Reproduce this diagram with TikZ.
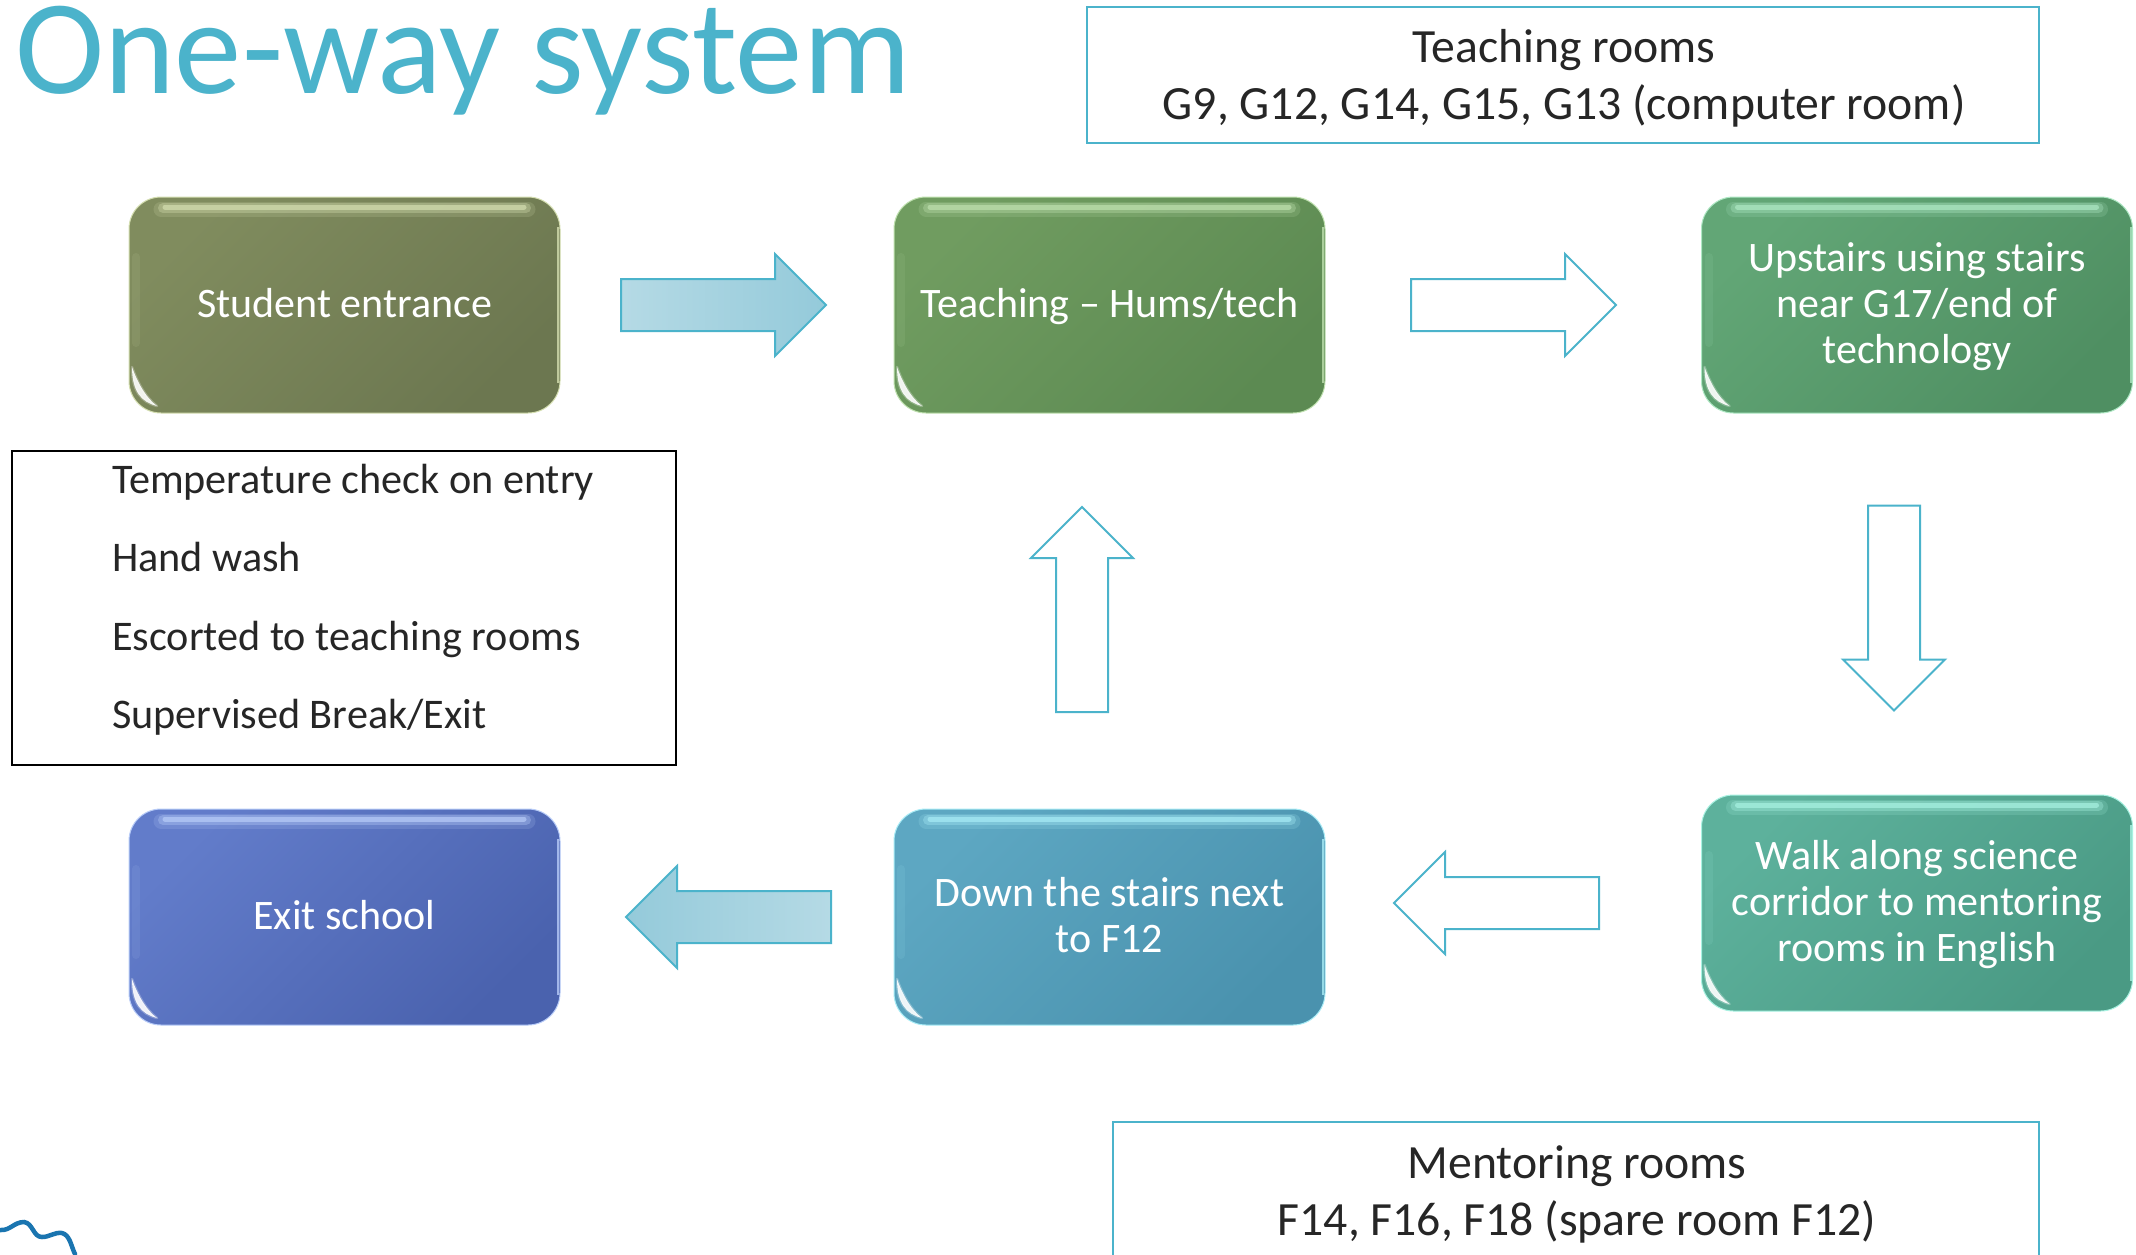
\documentclass[tikz,border=0pt]{standalone}
\usepackage{fontspec}
\setmainfont{Carlito}
\usetikzlibrary{shapes.arrows,calc}
\definecolor{teal1}{HTML}{4BB3CB}
\definecolor{ink}{HTML}{262626}
\definecolor{arrowlight}{HTML}{B5DAE5}
\definecolor{arrowdark}{HTML}{94CADA}
\definecolor{squiggle}{HTML}{1A75B0}
\definecolor{entA}{HTML}{808C5E}\definecolor{entB}{HTML}{6C7750}\definecolor{entC}{HTML}{D4DEB0}
\definecolor{teaA}{HTML}{709C60}\definecolor{teaB}{HTML}{5C8A52}\definecolor{teaC}{HTML}{BEE0AE}
\definecolor{upsA}{HTML}{62A676}\definecolor{upsB}{HTML}{4F8F62}\definecolor{upsC}{HTML}{AEE8C4}
\definecolor{walA}{HTML}{5DB19C}\definecolor{walB}{HTML}{4A9A84}\definecolor{walC}{HTML}{A8F2E2}
\definecolor{dowA}{HTML}{5DA7C2}\definecolor{dowB}{HTML}{4A92AE}\definecolor{dowC}{HTML}{A8ECF6}
\definecolor{exiA}{HTML}{627CCA}\definecolor{exiB}{HTML}{4A62AE}\definecolor{exiC}{HTML}{B8CCF8}
\newcommand{\bstrut}{\rule[-11pt]{0pt}{46pt}}
\tikzset{
  x=1pt,y=-1pt,
  glossbox/.style n args={3}{rectangle,rounded corners=32pt,minimum width=431pt,minimum height=216pt,
    inner sep=0pt,outer sep=0pt,align=center,text=white,draw=#3,line width=1pt,
    left color=#1,right color=#2,shading angle=45,
    font=\fontsize{42}{46}\selectfont},
  blockarrow/.style={single arrow,anchor=tail,minimum height=205pt,minimum width=100pt,single arrow head extend=25pt,
    single arrow head indent=0pt,inner xsep=0pt,inner ysep=25pt,outer sep=0pt,draw=teal1,line width=2pt,fill=white},
  vertical arrow/.style={blockarrow,inner xsep=25pt,inner ysep=0pt},
  labelbox/.style={rectangle,inner sep=0pt,outer sep=0pt,draw=teal1,line width=2pt,fill=white},
  roomtext/.style={text=ink,align=center,font=\fontsize{47.7}{57}\selectfont},
  listtext/.style={text=ink,anchor=base west,inner sep=0pt,font=\fontsize{42.2}{46}\selectfont},
}
\newcommand{\glossmark}[2]{%
  \draw[#2,line width=15pt,opacity=.18,line cap=round] ($(#1.north west)+(32,12)$) -- ($(#1.north east)+(-32,12)$);
  \draw[#2,line width=10pt,opacity=.35,line cap=round] ($(#1.north west)+(34,11)$) -- ($(#1.north east)+(-34,11)$);
  \draw[#2,line width=5pt,opacity=.7,line cap=round] ($(#1.north west)+(36,10)$) -- ($(#1.north east)+(-36,10)$);
  \draw[#2,line width=2pt,opacity=.8] ($(#1.north east)+(-2,30)$) -- ($(#1.south east)+(-2,-30)$);
  \draw[#2,line width=8pt,opacity=.1,line cap=round] ($(#1.north west)+(7,60)$) -- ($(#1.south west)+(7,-70)$);
  \path[fill=white,draw=white,line width=2.5pt,draw opacity=.25,fill opacity=.9,line join=round]
    ($(#1.south west)+(3,-46)$) .. controls ($(#1.south west)+(3,-22)$) and ($(#1.south west)+(12,-11)$) .. ($(#1.south west)+(28,-7)$)
    .. controls ($(#1.south west)+(16,-16)$) and ($(#1.south west)+(8,-32)$) .. cycle;
}
\begin{document}
\begin{tikzpicture}
\useasboundingbox (0,0) rectangle (2136,1254);
\fill[white] (0,0) rectangle (2136,1254);

\begin{scope}
\clip (0,0) rectangle (2136,1254);
\node[anchor=base west,inner sep=0pt,text=teal1,font=\fontsize{134.6}{134}\selectfont] (title) at (15,93) {One-way system};
\end{scope}

\node[labelbox,minimum width=952pt,minimum height=136pt] (troom) at (1563,75) {};
\node[roomtext] (troomtext) at (1564,78) {Teaching rooms\\G9, G12, G14, G15, G13 (computer room)};
\begin{scope}
\clip (0,0) rectangle (2136,1254);
\node[labelbox,minimum width=926pt,minimum height=160pt] (mroom) at (1576,1202) {};
\end{scope}
\node[roomtext] (mroomtext) at (1577,1194) {Mentoring rooms\\F14, F16, F18 (spare room F12)};

\node[rectangle,draw=black,line width=2pt,minimum width=664pt,minimum height=314pt,inner sep=0pt,outer sep=0pt] (checks) at (344,607.5) {};
\node[listtext] (c1) at (112,493) {Temperature check on entry};
\node[listtext] (c2) at (112,571) {Hand wash};
\node[listtext] (c3) at (112,650) {Escorted to teaching rooms};
\node[listtext] (c4) at (112,728) {Supervised Break/Exit};

\node[glossbox={entA}{entB}{entC}] (entrance) at (344.5,305) {\bstrut Student entrance};
\node[glossbox={teaA}{teaB}{teaC}] (teach) at (1109.5,305) {\bstrut Teaching -- Hums/tech};
\node[glossbox={upsA}{upsB}{upsC}] (up) at (1917,305) {\bstrut Upstairs using stairs\\\bstrut near G17/end of\\\bstrut technology};
\node[glossbox={walA}{walB}{walC}] (walk) at (1917,903) {\bstrut Walk along science\\\bstrut corridor to mentoring\\\bstrut rooms in English};
\node[glossbox={dowA}{dowB}{dowC}] (down) at (1109.5,917) {\bstrut Down the stairs next\\\bstrut to F12};
\node[glossbox={exiA}{exiB}{exiC}] (exit) at (344.5,917) {\bstrut Exit school};

\glossmark{entrance}{entC}
\glossmark{teach}{teaC}
\glossmark{up}{upsC}
\glossmark{walk}{walC}
\glossmark{down}{dowC}
\glossmark{exit}{exiC}

\node[blockarrow,left color=arrowlight,right color=arrowdark] (a1) at (621,305) {};
\node[blockarrow] (a2) at (1411,305) {};
\node[vertical arrow,shape border rotate=270] (a3) at (1894,505.5) {};
\node[blockarrow,shape border rotate=180] (a4) at (1599,903) {};
\node[blockarrow,shape border rotate=180,left color=arrowdark,right color=arrowlight] (a5) at (831,917) {};
\node[vertical arrow,shape border rotate=90] (a6) at (1082,712) {};

\draw[line width=4.5pt,color=squiggle,line cap=round] (0,1230) .. controls (10,1231) and (14,1222) .. (24,1222)
  .. controls (33,1223) and (33,1237) .. (42,1237) .. controls (50,1237) and (54,1232) .. (62,1233)
  .. controls (70,1235) and (71,1246) .. (75,1254);
\end{tikzpicture}
\end{document}
